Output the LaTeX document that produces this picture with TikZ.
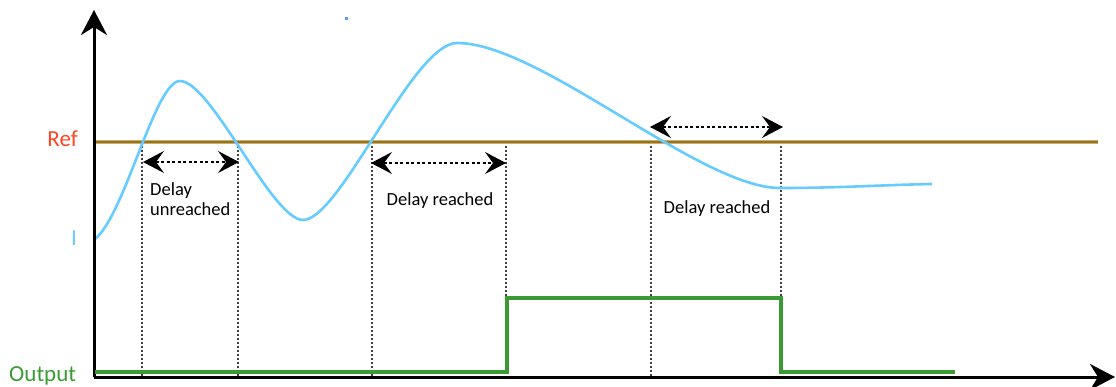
\documentclass[tikz,border=0pt]{standalone}
\usepackage{fontspec}
\setmainfont{Carlito}
\usetikzlibrary{arrows.meta}
\definecolor{refbrown}{RGB}{150,113,40}
\definecolor{reftan}{RGB}{205,175,100}
\definecolor{curveblue}{RGB}{102,204,255}
\definecolor{outgreen}{RGB}{58,155,50}
\definecolor{refred}{RGB}{255,69,34}
\tikzset{
  axisline/.style={line width=3pt, black},
  axistip/.style={-{Stealth[length=25pt,width=26pt,inset=8pt]}},
  dotv/.style={line width=1.4pt, black!75, dash pattern=on 2pt off 2pt},
  dblarrow/.style={line width=1.3pt, black, dash pattern=on 3pt off 2.5pt,
     {Stealth[length=21pt,width=22pt,inset=8pt]}-{Stealth[length=21pt,width=22pt,inset=8pt]}},
  sig/.style={line width=2.6pt, curveblue},
  outsig/.style={line width=4.2pt, outgreen},
  axlabel/.style={font=\fontsize{23}{26}\selectfont, inner sep=0pt},
  dlabel/.style={font=\fontsize{18.5}{20}\selectfont, inner sep=0pt, text=black},
}
\begin{document}
\begin{tikzpicture}[x=1pt,y=-1pt]
\useasboundingbox (0,0) rectangle (1116,387);
% key coordinates
\coordinate (O) at (94,377);
\coordinate (ytop) at (94,10);
\coordinate (xend) at (1115,377);
\coordinate (r0) at (95,142);
\coordinate (r1) at (1098,142);
% crossings / event times on ref line
\coordinate (c1) at (142,142);
\coordinate (c2) at (238,142);
\coordinate (c3) at (372,142);
\coordinate (c4) at (506,142);
\coordinate (c5) at (651,142);
\coordinate (c6) at (781,142);
% bottom points of dotted lines
\coordinate (b1) at (142,377);
\coordinate (b2) at (238,377);
\coordinate (b3) at (372,377);
\coordinate (b4) at (506,298);
\coordinate (b5) at (651,377);
\coordinate (b6) at (781,298);
% dotted verticals
\foreach \i in {1,...,6} { \draw[dotv] (c\i) -- (b\i); }
% ref line
\draw[line width=4.2pt, reftan] (r0) -- (r1);
\draw[line width=2pt, refbrown] (r0) -- (r1);
% blue measurement curve
\coordinate (s0) at (95,239);
\coordinate (p1) at (180,81);
\coordinate (m1) at (303,220);
\coordinate (p2) at (457,43);
\coordinate (m2) at (780,188);
\coordinate (s1) at (932,184);
\draw[sig] (s0) .. controls (125,215) and (155,81) .. (p1)
  .. controls (211,81) and (272,220) .. (m1)
  .. controls (340,220) and (413,43) .. (p2)
  .. controls (540,43) and (700,188) .. (m2)
  .. controls (840,188) and (880,185) .. (s1);
% stray mark
\fill[curveblue!60!blue!80] (345,17.5) rectangle (348,20);
% output signal
\coordinate (g0) at (95,372);
\coordinate (g1) at (507,372);
\coordinate (g2) at (507,298);
\coordinate (g3) at (781,298);
\coordinate (g4) at (781,372);
\coordinate (g5) at (955,372);
% axes
\draw[axisline, axistip] (O) -- (ytop);
\draw[axisline, axistip] (O) -- (xend);
\draw[outsig] (g0) -- (g1) -- (g2) -- (g3) -- (g4) -- (g5);
% delay arrows
\coordinate (a1l) at (143,162); \coordinate (a1r) at (239,162);
\coordinate (a2l) at (371,163); \coordinate (a2r) at (506,163);
\coordinate (a3l) at (650,127); \coordinate (a3r) at (783,127);
\draw[dblarrow] (a1l) -- (a1r);
\draw[dblarrow] (a2l) -- (a2r);
\draw[dblarrow] (a3l) -- (a3r);
% labels
\node[axlabel, text=refred, anchor=base east] (lref) at (78,147) {Ref};
\node[axlabel, text=curveblue, anchor=base east] (li) at (77,246) {I};
\node[axlabel, text=outgreen, anchor=base west] (lout) at (9,381) {Output};
\node[dlabel, anchor=north west, align=left] (d1) at (150,182) {Delay\\unreached};
\node[dlabel, anchor=base] (d2) at (440,206) {Delay reached};
\node[dlabel, anchor=base] (d3) at (717,214) {Delay reached};
\end{tikzpicture}
\end{document}
